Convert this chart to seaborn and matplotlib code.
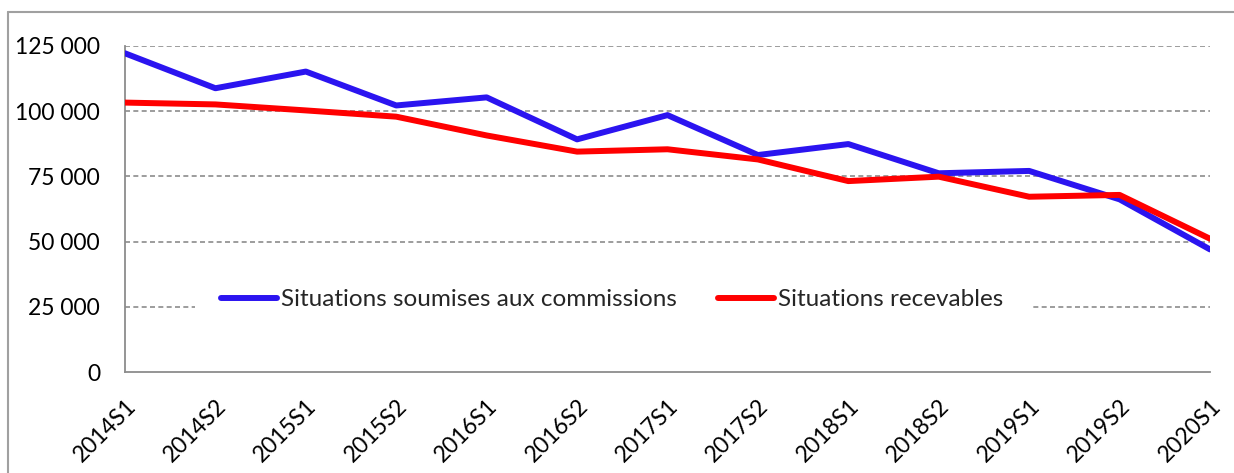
import matplotlib
matplotlib.use("Agg")
import matplotlib.pyplot as plt
from matplotlib.lines import Line2D
from matplotlib.ticker import FuncFormatter
import pandas as pd
import seaborn as sns

periods = ["2014S1", "2014S2", "2015S1", "2015S2", "2016S1", "2016S2", "2017S1",
           "2017S2", "2018S1", "2018S2", "2019S1", "2019S2", "2020S1"]
soumises = [122200, 108800, 115200, 102200, 105300, 89200, 98500,
            83200, 87400, 76200, 77100, 66200, 47000]
recevables = [103300, 102600, 100300, 97900, 90700, 84500, 85400,
              81500, 73200, 74900, 67200, 67900, 51100]

name_a = "Situations soumises aux commissions"
name_b = "Situations recevables"

df = pd.DataFrame({"periode": periods * 2,
                   "valeur": soumises + recevables,
                   "serie": [name_a] * len(periods) + [name_b] * len(periods)})

sns.set_style("white")
plt.rcParams["font.family"] = ["Lato", "DejaVu Sans"]

fig = plt.figure(figsize=(12.34, 4.73), dpi=100)
ax = fig.add_axes([125 / 1234, 1 - 372 / 473, 1085 / 1234, 326 / 473])

# grid first so the lines sit on top
for v in [25000, 50000, 75000, 100000, 125000]:
    ax.axhline(v, color="#8c8c8c", lw=1.2, ls=(0, (3, 2)), zorder=1)

sns.lineplot(data=df, x="periode", y="valeur", hue="serie", sort=False,
             palette={name_a: "#2b14f0", name_b: "#ff0000"},
             linewidth=4.3, ax=ax, zorder=3)

ax.set_xlim(0, len(periods) - 1)
ax.set_ylim(0, 125000)
ax.set_yticks([0, 25000, 50000, 75000, 100000, 125000])
ax.yaxis.set_major_formatter(FuncFormatter(lambda v, p: "{:,.0f}".format(v).replace(",", " ")))
ax.set_xlabel("")
ax.set_ylabel("")

for s in ["top", "right"]:
    ax.spines[s].set_visible(False)
for s in ["left", "bottom"]:
    ax.spines[s].set_color("#8c8c8c")
    ax.spines[s].set_linewidth(1.3)

ax.tick_params(axis="both", which="both", direction="out", colors="#8c8c8c",
               labelcolor="black", labelsize=16.5, length=7, width=1.3)
ax.tick_params(axis="y", pad=11)
ax.tick_params(axis="x", pad=10)
for lab in ax.get_xticklabels():
    lab.set_rotation(45)
    lab.set_ha("right")
    lab.set_va("top")
    lab.set_rotation_mode("anchor")

leg = ax.legend(loc="center", bbox_to_anchor=(0.449, 0.221), ncol=2,
                fontsize=17.5, frameon=True, framealpha=1, facecolor="white",
                edgecolor="none", handlelength=2.3, handletextpad=0.15,
                columnspacing=1.7, borderpad=1.1, borderaxespad=0)
leg.set_zorder(4)
for h in leg.get_lines():
    h.set_linewidth(4.3)
    h.set_solid_capstyle("round")

# outer frame of the chart area
fig.add_artist(Line2D([8 / 1234, 8 / 1234], [0, 1 - 12 / 473],
                      transform=fig.transFigure, color="#a0a0a0", lw=1.5))
fig.add_artist(Line2D([8 / 1234, 1], [1 - 12 / 473, 1 - 12 / 473],
                      transform=fig.transFigure, color="#a0a0a0", lw=1.5))

fig.savefig("out.png", dpi=100)
